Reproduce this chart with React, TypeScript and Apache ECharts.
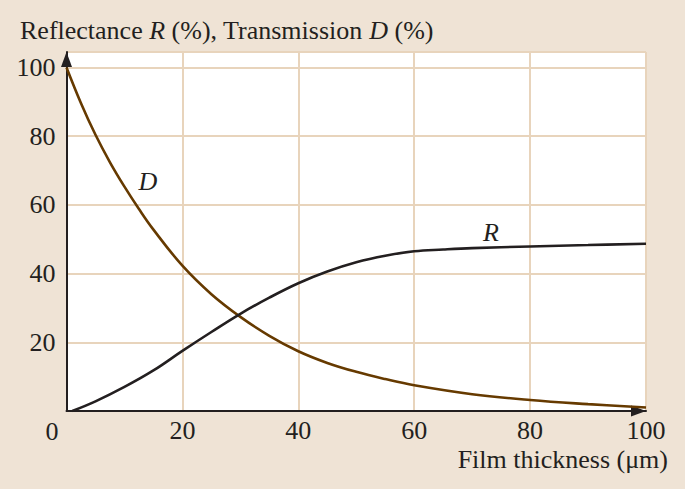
import React, { useEffect, useRef } from 'react';
import * as echarts from 'echarts';

const yTitle = ['Reflectance ', 'R', ' (%), Transmission ', 'D', ' (%)'];
const xTitle = 'Film thickness (μm)';
const dX = [0, 2.5, 5, 7.5, 10, 12.5, 15, 20, 25, 30, 35, 40, 45, 50, 55, 60, 70, 80, 90, 100];
const dY = [100, 89.6, 80.4, 72.4, 65.3, 58.8, 52.8, 42.3, 34.0, 27.4, 21.9, 17.4, 14.0, 11.4, 9.3, 7.5, 4.9, 3.2, 2.0, 1.0];
const rX = [1, 5, 10, 15, 20, 25, 30, 35, 40, 45, 50, 55, 60, 65, 70, 80, 90, 100];
const rY = [0, 2.8, 7, 11.8, 17.5, 23, 28.3, 33, 37.2, 40.6, 43.3, 45.2, 46.5, 47, 47.4, 47.9, 48.3, 48.7];

const FONT = 'Liberation Serif';
const BG = '#efe3d5';
const GRIDC = '#e8d4bc';
const AXC = '#231f20';
const DCOL = '#663a00';

export default function App() {
  const ref = useRef<HTMLDivElement>(null);
  useEffect(() => {
    const chart = echarts.init(ref.current!, null, { renderer: 'svg' });
    const fs = 26;
    chart.setOption({
      animation: false,
      backgroundColor: BG,
      grid: {
        left: 66.5, right: 39, top: 52, bottom: 78,
        show: true, backgroundColor: '#ffffff', borderWidth: 0,
      },
      xAxis: {
        type: 'value', min: 0, max: 100, interval: 20,
        axisLine: { show: true, lineStyle: { color: AXC, width: 2 }, symbol: ['none', 'triangle'], symbolSize: [11, 15], symbolOffset: [0, -7.5] },
        axisTick: { show: false },
        splitLine: { show: true, lineStyle: { color: GRIDC, width: 2 } },
        axisLabel: {
          margin: 6, color: AXC, fontFamily: FONT, fontSize: fs,
          formatter: (v: number) => (v === 0 ? '' : String(v)),
        },
      },
      yAxis: {
        type: 'value', min: 0, max: 104.5, interval: 20,
        axisLine: { show: true, lineStyle: { color: AXC, width: 2 }, symbol: ['none', 'triangle'], symbolSize: [11, 15], symbolOffset: [0, -7.5] },
        axisTick: { show: false },
        splitLine: { show: true, lineStyle: { color: GRIDC, width: 2 } },
        axisLabel: {
          margin: 11, color: AXC, fontFamily: FONT, fontSize: fs,
          formatter: (v: number) => (v === 0 || v % 20 !== 0 ? '' : String(v)),
        },
      },
      series: [
        {
          type: 'line', smooth: 0.4, symbol: 'none', z: 3,
          data: dX.map((x, i) => [x, dY[i]]),
          lineStyle: { color: DCOL, width: 2.6 },
        },
        {
          type: 'line', smooth: 0.4, symbol: 'none', z: 3,
          data: rX.map((x, i) => [x, rY[i]]),
          lineStyle: { color: AXC, width: 2.6 },
        },
      ],
      graphic: [
        {
          type: 'text', left: 20, top: 17,
          style: {
            text: `{a|${yTitle[0]}}{i|${yTitle[1]}}{a|${yTitle[2]}}{i|${yTitle[3]}}{a|${yTitle[4]}}`,
            rich: {
              a: { fontFamily: FONT, fontSize: fs, fill: AXC },
              i: { fontFamily: FONT, fontSize: fs, fill: AXC, fontStyle: 'italic' },
            },
          },
        },
        {
          type: 'text', right: 17, top: 446,
          style: { text: xTitle, fontFamily: FONT, fontSize: fs, fill: AXC },
        },
        {
          type: 'text', x: 52, y: 431,
          style: { text: '0', fontFamily: FONT, fontSize: fs, fill: AXC, align: 'center', verticalAlign: 'middle' },
        },
        {
          type: 'text', x: 148, y: 181, z: 10,
          style: { text: 'D', fontFamily: FONT, fontSize: fs, fontStyle: 'italic', fill: AXC, align: 'center', verticalAlign: 'middle' },
        },
        {
          type: 'text', x: 491, y: 232, z: 10,
          style: { text: 'R', fontFamily: FONT, fontSize: fs, fontStyle: 'italic', fill: AXC, align: 'center', verticalAlign: 'middle' },
        },
      ],
    });
    return () => chart.dispose();
  }, []);
  return <div ref={ref} style={{ position: 'fixed', left: 0, top: 0, width: 685, height: 489 }} />;
}
